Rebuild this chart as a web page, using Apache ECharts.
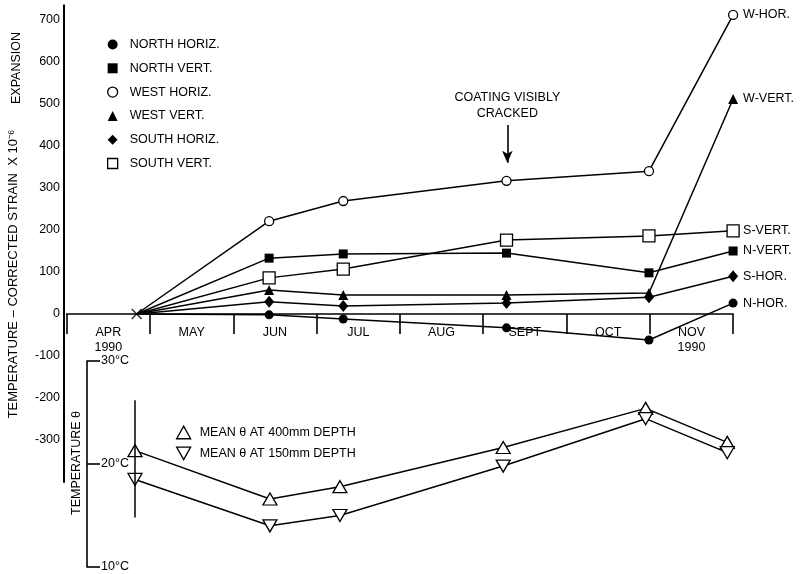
<!DOCTYPE html>
<html>
<head>
<meta charset="utf-8">
<script src="https://cdn.jsdelivr.net/npm/echarts@6/dist/echarts.min.js"></script>
<style>
html,body{margin:0;padding:0;background:#fff;}
#chart{width:802px;height:574px;}
</style>
</head>
<body>
<div id="chart"></div>
<script>
// ---- data ----
const monthLabels = ['APR\n1990', 'MAY', 'JUN', 'JUL', 'AUG', 'SEPT', 'OCT', 'NOV\n1990'];
// x positions in months after 1 May 1990
const strainX = [-0.16, 1.43, 2.32, 4.28, 5.99, 7.0];
const northHoriz = [0, -2, -12, -33, -62, 26];
const northVert  = [0, 133, 143, 145, 98, 150];
const westHoriz  = [0, 221, 269, 317, 340, 712];
const westVert   = [0, 57, 45, 45, 50, 512];
const southHoriz = [0, 29, 19, 26, 40, 90];
const southVert  = [0, 86, 107, 176, 186, 198];
const strainTickValues = [100, 200, 300, 400, 500, 600, 700];

const tempX   = [-0.18, 1.44, 2.28, 4.24, 5.95, 6.93];
const temp400 = [21.3, 16.6, 17.8, 21.6, 25.4, 22.1];
const temp150 = [18.5, 14.0, 15.0, 19.8, 24.4, 21.1];
const tempRange = [26.2, 14.8];   // vertical bar at first reading
const crackedAt = [4.29, 450, 360]; // annotation arrow x, from, to

// ---- styling ----
const FONT = 'Liberation Sans, Arial, Helvetica, sans-serif';
const FS = 12.5;
const BLACK = '#000';
const downTri = 'path://M0,0 L10,0 L5,9 Z';
const upTri = 'path://M5,0 L10,9 L0,9 Z';
const cross = 'path://M0,1 L1,0 L5,4 L9,0 L10,1 L6,5 L10,9 L9,10 L5,6 L1,10 L0,9 L4,5 Z';

function pts(xs, ys, firstNone) {
  return xs.map((x, i) => {
    const o = { value: [x, ys[i]] };
    if (firstNone && i === 0) o.symbol = 'none';
    return o;
  });
}

const strainDefs = [
  { name: 'NORTH HORIZ.', data: northHoriz, symbol: 'circle', size: 9, fill: BLACK, end: 'N-HOR.' },
  { name: 'NORTH VERT.', data: northVert, symbol: 'rect', size: 9, fill: BLACK, end: 'N-VERT.' },
  { name: 'WEST HORIZ.', data: westHoriz, symbol: 'circle', size: 9, fill: '#fff', end: 'W-HOR.' },
  { name: 'WEST VERT.', data: westVert, symbol: 'triangle', size: 10, fill: BLACK, end: 'W-VERT.' },
  { name: 'SOUTH HORIZ.', data: southHoriz, symbol: 'diamond', size: [10, 12], fill: BLACK, end: 'S-HOR.' },
  { name: 'SOUTH VERT.', data: southVert, symbol: 'rect', size: 12, fill: '#fff', end: 'S-VERT.' }
];

const series = strainDefs.map(d => {
  const s = {
    name: d.name,
    type: 'line',
    xAxisIndex: 0, yAxisIndex: 0,
    data: pts(strainX, d.data, true),
    symbol: d.symbol,
    symbolSize: d.size,
    showAllSymbol: true,
    clip: false,
    z: 3,
    lineStyle: { color: BLACK, width: 1.5 },
    itemStyle: { color: d.fill, borderColor: BLACK, borderWidth: d.fill === '#fff' ? 1.3 : 0, opacity: 1 },
    endLabel: { show: true, formatter: d.end, color: BLACK, fontFamily: FONT, fontSize: FS, distance: 10 },
    emphasis: { disabled: true },
    animation: false
  };
  if (d.name === 'WEST HORIZ.') {
    s.markLine = {
      silent: true, animation: false,
      symbol: ['none', 'arrow'], symbolSize: [8, 12],
      lineStyle: { color: BLACK, width: 1.6, type: 'solid' },
      label: {
        show: true, position: 'start', distance: 3,
        formatter: 'COATING VISIBLY\nCRACKED',
        color: BLACK, fontFamily: FONT, fontSize: FS, lineHeight: 16, align: 'center'
      },
      data: [[{ coord: [crackedAt[0], crackedAt[1]] }, { coord: [crackedAt[0], crackedAt[2]] }]]
    };
  }
  return s;
});

// start cross + y-axis inward ticks (positive side only)
series.push({
  name: 'start', type: 'scatter', xAxisIndex: 0, yAxisIndex: 0,
  data: [[strainX[0], 0]], symbol: cross, symbolSize: 11,
  itemStyle: { color: BLACK }, z: 4, silent: true, animation: false,
  markLine: {
    silent: true, animation: false, symbol: 'none',
    label: { show: false },
    lineStyle: { color: BLACK, width: 2, type: 'solid' },
    data: strainTickValues.map(v => [{ coord: [-1.032, v] }, { coord: [-0.79, v] }])
  }
});

series.push({
  name: 'MEAN θ AT 400mm DEPTH', type: 'line', xAxisIndex: 2, yAxisIndex: 1,
  data: pts(tempX, temp400, false), symbol: upTri, symbolSize: [14, 12],
  clip: false, z: 3,
  lineStyle: { color: BLACK, width: 1.5 },
  itemStyle: { color: '#fff', borderColor: BLACK, borderWidth: 1.3 },
  emphasis: { disabled: true }, animation: false,
  markLine: {
    silent: true, animation: false, symbol: 'none', label: { show: false },
    lineStyle: { color: BLACK, width: 1.5, type: 'solid' },
    data: [[{ coord: [tempX[0], tempRange[0]] }, { coord: [tempX[0], tempRange[1]] }]]
  }
});
series.push({
  name: 'MEAN θ AT 150mm DEPTH', type: 'line', xAxisIndex: 2, yAxisIndex: 1,
  data: pts(tempX, temp150, false), symbol: downTri, symbolSize: [14, 12],
  clip: false, z: 3,
  lineStyle: { color: BLACK, width: 1.5 },
  itemStyle: { color: '#fff', borderColor: BLACK, borderWidth: 1.3 },
  emphasis: { disabled: true }, animation: false
});

const GL = 66.7, GW = 666.4;
const STOP = 5.3, SH = 476.7, SMIN = -400, SMAX = 735;
const zeroY = STOP + SH * (SMAX - 0) / (SMAX - SMIN); // pixel row of strain = 0

const option = {
  backgroundColor: '#fff',
  animation: false,
  textStyle: { fontFamily: FONT, color: BLACK },
  grid: [
    { left: GL, width: GW, top: STOP, height: SH },
    { left: GL, width: GW, top: 361, height: 206 },
    { left: GL, width: GW, top: STOP, height: zeroY - STOP }
  ],
  xAxis: [
    { type: 'value', gridIndex: 0, min: -1, max: 7, show: false, axisLine: { onZero: false } },
    {
      type: 'category', gridIndex: 2, data: monthLabels, position: 'bottom', boundaryGap: true,
      axisLine: { onZero: false, lineStyle: { color: BLACK, width: 1.6 } },
      axisTick: { show: true, length: 20, interval: 0, lineStyle: { color: BLACK, width: 1.6 } },
      axisLabel: { interval: 0, margin: 11, color: BLACK, fontFamily: FONT, fontSize: FS, lineHeight: 15 },
      splitLine: { show: false }
    },
    { type: 'value', gridIndex: 1, min: -1, max: 7, show: false, axisLine: { onZero: false } }
  ],
  yAxis: [
    {
      type: 'value', gridIndex: 0, min: SMIN, max: SMAX, interval: 100, offset: 2.7,
      axisLine: { show: true, onZero: false, lineStyle: { color: BLACK, width: 2 } },
      axisTick: { show: false },
      splitLine: { show: false },
      axisLabel: {
        margin: 4, color: BLACK, fontFamily: FONT, fontSize: FS,
        formatter: v => (v === -400 ? '' : String(v)),
        showMaxLabel: false
      }
    },
    {
      type: 'value', gridIndex: 1, min: 10, max: 30, interval: 10, offset: -20.3,
      axisLine: { show: true, onZero: false, lineStyle: { color: BLACK, width: 1.6 } },
      axisTick: { show: true, inside: true, length: 13, lineStyle: { color: BLACK, width: 1.6 } },
      splitLine: { show: false },
      axisLabel: { inside: true, margin: 14, color: BLACK, fontFamily: FONT, fontSize: FS, formatter: '{value}°C' }
    },
    { type: 'value', gridIndex: 2, min: 0, max: 1, show: false, axisLine: { onZero: false } }
  ],
  legend: [
    {
      orient: 'vertical', left: 102, top: 33,
      itemWidth: 10, itemHeight: 10, itemGap: 10.8,
      selectedMode: false,
      textStyle: { color: BLACK, fontFamily: FONT, fontSize: FS, lineHeight: 10, padding: [0, 0, 0, 7] },
      data: [
        { name: 'NORTH HORIZ.', icon: 'circle', itemStyle: { color: BLACK, borderWidth: 0 } },
        { name: 'NORTH VERT.', icon: 'rect', itemStyle: { color: BLACK, borderWidth: 0 } },
        { name: 'WEST HORIZ.', icon: 'circle', itemStyle: { color: '#fff', borderColor: BLACK, borderWidth: 1.3 } },
        { name: 'WEST VERT.', icon: 'triangle', itemStyle: { color: BLACK, borderWidth: 0 } },
        { name: 'SOUTH HORIZ.', icon: 'diamond', itemStyle: { color: BLACK, borderWidth: 0 } },
        { name: 'SOUTH VERT.', icon: 'rect', itemStyle: { color: '#fff', borderColor: BLACK, borderWidth: 1.3 } }
      ]
    },
    {
      orient: 'vertical', left: 171, top: 420.5,
      itemWidth: 14, itemHeight: 13, itemGap: 7,
      selectedMode: false,
      textStyle: { color: BLACK, fontFamily: FONT, fontSize: FS, lineHeight: 12, padding: [0, 0, 0, 4] },
      data: [
        { name: 'MEAN θ AT 400mm DEPTH', icon: upTri, itemStyle: { color: '#fff', borderColor: BLACK, borderWidth: 1.3 } },
        { name: 'MEAN θ AT 150mm DEPTH', icon: downTri, itemStyle: { color: '#fff', borderColor: BLACK, borderWidth: 1.3 } }
      ]
    }
  ],
  graphic: [
    {
      type: 'text', x: 17, y: 68, rotation: Math.PI / 2,
      style: { text: 'EXPANSION', fill: BLACK, font: FS + 'px ' + FONT, align: 'center', verticalAlign: 'middle' }
    },
    {
      type: 'text', x: 13, y: 274, rotation: Math.PI / 2,
      style: { text: 'TEMPERATURE – CORRECTED STRAIN  X 10⁻⁶', fill: BLACK, font: '13px ' + FONT, align: 'center', verticalAlign: 'middle' }
    },
    {
      type: 'text', x: 77, y: 463, rotation: Math.PI / 2,
      style: { text: 'TEMPERATURE θ', fill: BLACK, font: FS + 'px ' + FONT, align: 'center', verticalAlign: 'middle' }
    }
  ],
  series: series
};

const chart = echarts.init(document.getElementById('chart'), null, { renderer: 'canvas' });
chart.setOption(option);
</script>
</body>
</html>
